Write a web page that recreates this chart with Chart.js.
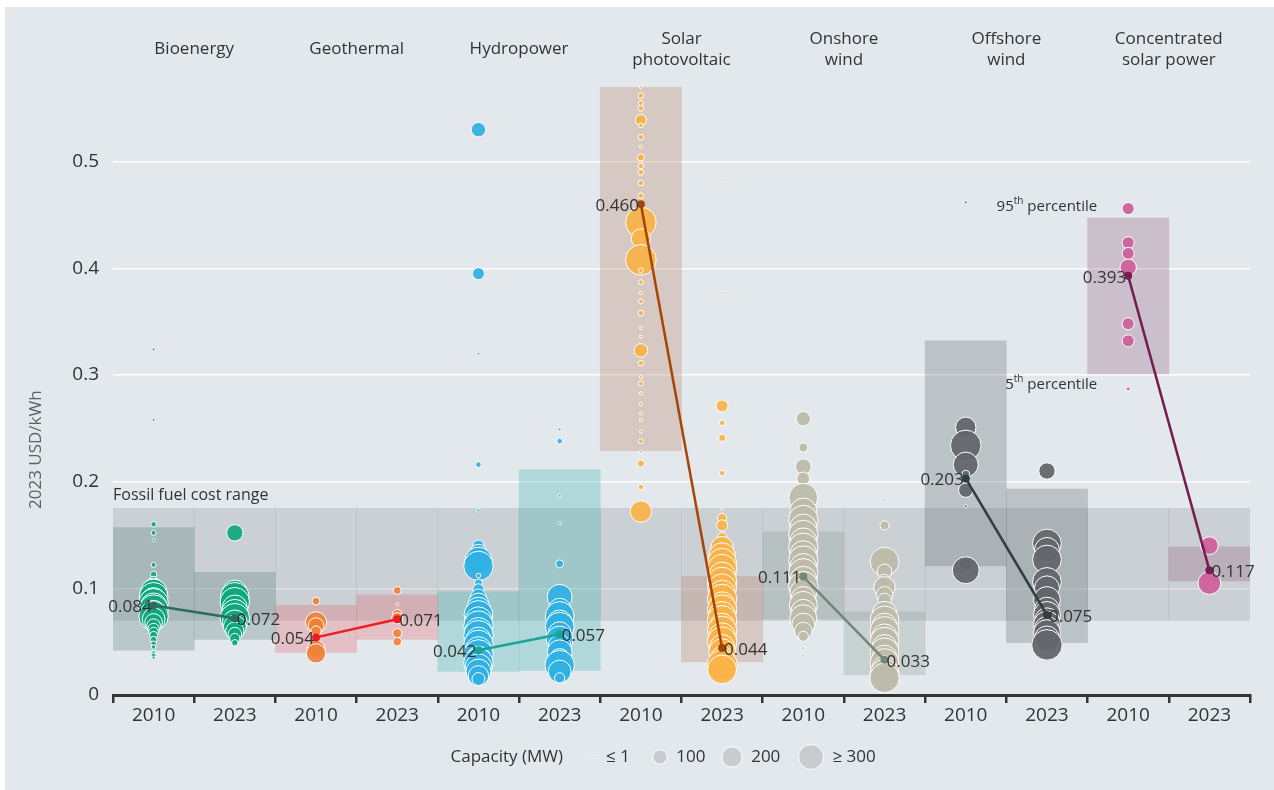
<!DOCTYPE html>
<html>
<head>
<meta charset="utf-8">
<script src="https://cdn.jsdelivr.net/npm/chart.js@4.4.0/dist/chart.umd.min.js"></script>
<style>
  body { margin: 0; background: #ffffff; }
  #wrap { width: 1274px; height: 790px; }
</style>
</head>
<body>
<div id="wrap"><canvas id="lcoe" width="1274" height="790"></canvas></div>
<script>
// technologies and years
var techs = [['Bioenergy'], ['Geothermal'], ['Hydropower'], ['Solar', 'photovoltaic'], ['Onshore', 'wind'], ['Offshore', 'wind'], ['Concentrated', 'solar power']];
var techKeys = ['bio', 'geo', 'hydro', 'pv', 'onshore', 'offshore', 'csp'];
var years = ['2010', '2023'];

// weighted averages (2023 USD/kWh)
var avg2010 = [0.084, 0.054, 0.042, 0.460, 0.111, 0.203, 0.393];
var avg2023 = [0.072, 0.071, 0.057, 0.044, 0.033, 0.075, 0.117];

// 5th - 95th percentile
var p5_2010 = [0.042, 0.040, 0.022, 0.229, 0.071, 0.121, 0.301];
var p95_2010 = [0.157, 0.084, 0.097, 0.570, 0.153, 0.332, 0.447];
var p5_2023 = [0.052, 0.052, 0.023, 0.031, 0.019, 0.049, 0.107];
var p95_2023 = [0.115, 0.094, 0.211, 0.111, 0.078, 0.193, 0.139];

// fossil fuel cost range
var fossilLow = 0.070;
var fossilHigh = 0.175;

// projects: [LCOE, capacity MW]
var bio2010 = [[0.324,1],[0.258,1],[0.160,15],[0.152,12],[0.145,1],[0.122,12],[0.113,20],[0.107,40],[0.100,200],[0.096,350],[0.092,400],[0.089,300],[0.086,420],[0.083,350],[0.080,420],[0.077,300],[0.074,420],[0.071,250],[0.068,150],[0.065,90],[0.062,60],[0.059,45],[0.056,30],[0.052,20],[0.048,15],[0.045,10],[0.040,6],[0.037,12],[0.035,5]];
var bio2023 = [[0.152,130],[0.096,300],[0.092,400],[0.087,420],[0.082,300],[0.077,350],[0.072,420],[0.068,300],[0.064,250],[0.060,160],[0.057,90],[0.053,50],[0.049,20]];
var geo2010 = [[0.088,30],[0.068,220],[0.065,120],[0.060,50],[0.043,150],[0.039,180]];
var geo2023 = [[0.098,30],[0.085,3],[0.076,40],[0.072,60],[0.058,40],[0.050,35]];
var hydro2010 = [[0.530,100],[0.395,70],[0.320,2],[0.216,15],[0.173,5],[0.140,60],[0.133,150],[0.126,350],[0.121,420],[0.112,10],[0.105,30],[0.099,60],[0.092,120],[0.086,200],[0.080,300],[0.075,400],[0.070,350],[0.065,420],[0.060,350],[0.056,420],[0.052,300],[0.047,420],[0.042,350],[0.038,420],[0.034,300],[0.030,420],[0.026,350],[0.022,300],[0.018,200],[0.015,80]];
var hydro2023 = [[0.249,5],[0.238,15],[0.187,1],[0.161,2],[0.123,30],[0.092,300],[0.080,250],[0.074,400],[0.068,300],[0.064,400],[0.058,250],[0.052,350],[0.046,250],[0.040,300],[0.034,200],[0.028,420],[0.022,250],[0.016,50]];
var pv2010 = [[0.570,2],[0.562,15],[0.555,12],[0.550,15],[0.539,60],[0.534,10],[0.523,15],[0.514,3],[0.504,25],[0.496,15],[0.490,15],[0.480,15],[0.468,15],[0.443,450],[0.428,180],[0.408,450],[0.398,12],[0.387,12],[0.377,5],[0.369,12],[0.358,15],[0.344,3],[0.336,3],[0.323,90],[0.311,15],[0.298,5],[0.292,12],[0.283,3],[0.273,5],[0.264,3],[0.258,3],[0.247,3],[0.238,12],[0.228,3],[0.217,25],[0.195,15],[0.172,220]];
var pv2023 = [[0.483,3],[0.377,3],[0.271,70],[0.255,15],[0.241,25],[0.208,15],[0.175,2],[0.166,40],[0.159,60],[0.148,40],[0.138,250],[0.130,350],[0.124,400],[0.118,420],[0.112,350],[0.106,420],[0.100,400],[0.095,350],[0.090,420],[0.085,300],[0.080,420],[0.075,350],[0.070,420],[0.065,300],[0.060,420],[0.055,350],[0.050,420],[0.045,300],[0.040,350],[0.035,250],[0.028,450],[0.024,400]];
var on2010 = [[0.259,100],[0.232,40],[0.214,120],[0.203,80],[0.185,400],[0.172,350],[0.164,420],[0.157,350],[0.150,420],[0.144,350],[0.138,420],[0.132,350],[0.126,420],[0.120,350],[0.114,420],[0.108,350],[0.102,420],[0.096,350],[0.090,300],[0.084,380],[0.078,300],[0.072,350],[0.066,250],[0.060,150],[0.055,50],[0.044,2],[0.037,3]];
var on2023 = [[0.183,5],[0.159,40],[0.125,400],[0.116,100],[0.108,60],[0.101,220],[0.094,130],[0.089,90],[0.082,70],[0.076,300],[0.070,400],[0.065,300],[0.060,400],[0.055,300],[0.050,400],[0.045,300],[0.040,400],[0.035,300],[0.030,400],[0.025,300],[0.020,400],[0.016,420]];
var off2010 = [[0.462,1],[0.251,200],[0.234,450],[0.216,300],[0.207,30],[0.192,100],[0.177,5],[0.122,80],[0.117,350]];
var off2023 = [[0.210,130],[0.142,400],[0.136,300],[0.127,400],[0.106,400],[0.100,300],[0.089,350],[0.080,300],[0.075,350],[0.070,300],[0.066,350],[0.062,300],[0.058,350],[0.053,300],[0.047,450]];
var csp2010 = [[0.456,70],[0.424,70],[0.414,70],[0.401,130],[0.348,70],[0.332,70],[0.287,8]];
var csp2023 = [[0.140,150],[0.105,250]];

var projects = [[bio2010, bio2023], [geo2010, geo2023], [hydro2010, hydro2023], [pv2010, pv2023], [on2010, on2023], [off2010, off2023], [csp2010, csp2023]];

// legend sizes
var legendMW = [1, 100, 200, 300];
var legendText = ['\u2264 1', '100', '200', '\u2265 300'];

// colours
var bubbleColors = ['rgba(14,168,127,0.93)', 'rgba(240,129,56,0.93)', 'rgba(47,176,227,0.93)', 'rgba(249,179,72,0.93)', 'rgba(189,186,169,0.95)', 'rgba(99,103,107,0.95)', 'rgba(204,97,153,0.95)'];
var lineColors = ['#2f6a5a', '#ee1c25', '#18a595', '#a84506', '#728679', '#2f3e40', '#761c4f'];
var boxColors = ['rgba(90,130,125,0.3)', 'rgba(230,100,110,0.3)', 'rgba(60,180,180,0.3)', 'rgba(185,125,100,0.3)', 'rgba(140,160,150,0.3)', 'rgba(95,108,110,0.3)', 'rgba(150,95,130,0.3)'];

var FONT = '"Open Sans", "DejaVu Sans", sans-serif';
var TEXT = '#333333';

function radius(mw) {
    return Math.max(1.5, 0.72 * Math.sqrt(mw));
}

// unique category keys, tick shows only the year
var labels = [];
techKeys.forEach(function (k) { years.forEach(function (y) { labels.push(k + ' ' + y); }); });

var datasets = [];

// fossil fuel band behind everything
var band = [];
for (var i = 0; i < labels.length; i++) band.push([fossilLow, fossilHigh]);
datasets.push({
    type: 'bar', data: band, backgroundColor: 'rgba(147,152,155,0.3)',
    barPercentage: 1, categoryPercentage: 1, grouped: false, borderWidth: 0, order: 20
});

// percentile boxes
var boxes = [], boxCol = [];
for (var t = 0; t < techs.length; t++) {
    boxes.push([p5_2010[t], p95_2010[t]]);
    boxes.push([p5_2023[t], p95_2023[t]]);
    boxCol.push(boxColors[t], boxColors[t]);
}
datasets.push({
    type: 'bar', data: boxes, backgroundColor: boxCol,
    barPercentage: 1, categoryPercentage: 1, grouped: false, borderWidth: 0, order: 19
});

// project bubbles
for (var t = 0; t < techs.length; t++) {
    var pts = [];
    for (var k = 0; k < 2; k++) {
        projects[t][k].forEach(function (p) {
            pts.push({ x: techKeys[t] + ' ' + years[k], y: p[0], r: radius(p[1]) });
        });
    }
    datasets.push({
        type: 'bubble', data: pts, backgroundColor: bubbleColors[t],
        borderColor: '#ffffff', borderWidth: 1, clip: false, order: 10
    });
}

// weighted average lines
for (var t = 0; t < techs.length; t++) {
    datasets.push({
        type: 'line',
        data: [{ x: techKeys[t] + ' 2010', y: avg2010[t] }, { x: techKeys[t] + ' 2023', y: avg2023[t] }],
        borderColor: lineColors[t], backgroundColor: lineColors[t],
        borderWidth: 2.5, pointRadius: 4, pointBorderWidth: 0, clip: false, order: 1
    });
}

var decor = {
    id: 'decor',
    beforeDraw: function (chart) {
        var c = chart.ctx;
        c.save();
        c.fillStyle = '#e3e8ec';
        c.fillRect(5, 7, chart.width - 5, chart.height - 7);
        c.restore();
    },
    afterDatasetsDraw: function (chart) {
        var c = chart.ctx;
        var xs = chart.scales.x, ys = chart.scales.y;
        c.save();
        c.fillStyle = TEXT;
        c.textBaseline = 'middle';

        // average labels
        c.font = '17px ' + FONT;
        for (var t = 0; t < techs.length; t++) {
            c.textAlign = 'right';
            c.fillText(avg2010[t].toFixed(3), xs.getPixelForValue(t * 2) - 2, ys.getPixelForValue(avg2010[t]) + 2);
            c.textAlign = 'left';
            c.fillText(avg2023[t].toFixed(3), xs.getPixelForValue(t * 2 + 1) + 2, ys.getPixelForValue(avg2023[t]) + 2);
        }

        // technology titles
        c.textAlign = 'center';
        for (var t = 0; t < techs.length; t++) {
            var cx = (xs.getPixelForValue(t * 2) + xs.getPixelForValue(t * 2 + 1)) / 2;
            if (techs[t].length == 1) {
                c.fillText(techs[t][0], cx, 49);
            } else {
                c.fillText(techs[t][0], cx, 39);
                c.fillText(techs[t][1], cx, 60);
            }
        }

        // fossil label
        c.textAlign = 'left';
        c.font = '16px ' + FONT;
        c.fillText('Fossil fuel cost range', chart.chartArea.left, ys.getPixelForValue(fossilHigh) - 13);

        // percentile notes
        var rx = xs.getPixelForValue(12) - 31;
        drawSup(c, '95', 'th', ' percentile', rx, ys.getPixelForValue(0.458));
        drawSup(c, '5', 'th', ' percentile', rx, ys.getPixelForValue(0.291));

        // y axis title
        c.save();
        c.translate(36, ys.getPixelForValue(0.23));
        c.rotate(-Math.PI / 2);
        c.textAlign = 'center';
        c.fillStyle = '#5c6266';
        c.font = '17px ' + FONT;
        c.fillText('2023 USD/kWh', 0, 0);
        c.restore();

        // capacity legend
        var ly = 757;
        c.font = '17px ' + FONT;
        c.textAlign = 'right';
        c.fillText('Capacity (MW)', 563, ly);
        var cxs = [592, 660, 732, 811];
        c.textAlign = 'left';
        for (var i = 0; i < legendMW.length; i++) {
            c.beginPath();
            c.arc(cxs[i], ly, legendMW[i] <= 1 ? 1.6 : radius(legendMW[i]), 0, Math.PI * 2);
            c.fillStyle = '#c9cccf';
            c.fill();
            c.strokeStyle = '#ffffff';
            c.lineWidth = 1;
            c.stroke();
            c.fillStyle = TEXT;
            c.fillText(legendText[i], cxs[i] + (legendMW[i] <= 1 ? 14 : radius(legendMW[i]) + 9), ly);
        }
        c.restore();
    }
};

function drawSup(c, a, sup, b, right, y) {
    c.font = '15px ' + FONT;
    var wa = c.measureText(a).width, wb = c.measureText(b).width;
    c.font = '10px ' + FONT;
    var ws = c.measureText(sup).width;
    var x = right - wa - ws - wb;
    c.textAlign = 'left';
    c.font = '15px ' + FONT;
    c.fillText(a, x, y);
    c.font = '10px ' + FONT;
    c.fillText(sup, x + wa, y - 5);
    c.font = '15px ' + FONT;
    c.fillText(b, x + wa + ws, y);
}

new Chart('lcoe', {
    type: 'bar',
    data: { labels: labels, datasets: datasets },
    plugins: [decor],
    options: {
        responsive: false,
        animation: false,
        layout: { padding: { top: 87, right: 24, left: 0, bottom: 0 } },
        plugins: { legend: { display: false }, tooltip: { enabled: false } },
        scales: {
            x: {
                type: 'category',
                offset: true,
                grid: { offset: true, drawOnChartArea: false, drawTicks: true, tickLength: 8, color: '#333333', lineWidth: 2.5 },
                border: { display: true, color: '#333333', width: 3 },
                ticks: {
                    color: TEXT, font: { size: 19, family: FONT }, padding: 1, maxRotation: 0,
                    callback: function (v) { return this.getLabelForValue(v).slice(-4); }
                },
                afterFit: function (s) { s.height = 95; }
            },
            y: {
                min: 0, max: 0.57,
                grid: { color: '#ffffff', lineWidth: 1.5, drawTicks: false },
                border: { display: false },
                ticks: { stepSize: 0.1, color: TEXT, font: { size: 19, family: FONT }, padding: 14 },
                afterBuildTicks: function (s) {
                    s.ticks = s.ticks.filter(function (tk) { return Math.abs(tk.value * 10 - Math.round(tk.value * 10)) < 1e-6; });
                },
                afterFit: function (s) { s.width = 113; }
            }
        }
    }
});
</script>
</body>
</html>
